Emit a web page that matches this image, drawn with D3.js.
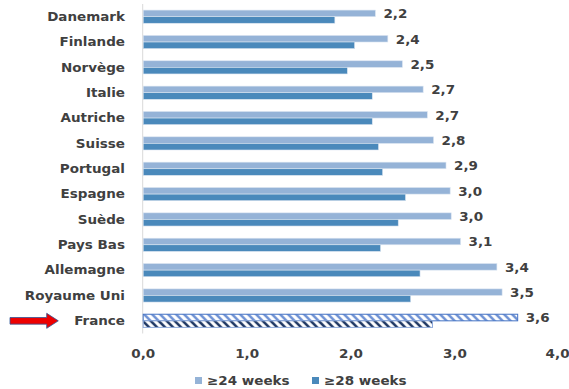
<!DOCTYPE html>
<html><head><meta charset="utf-8">
<script src="https://cdn.jsdelivr.net/npm/d3@7/dist/d3.min.js"></script>
<style>
html,body{margin:0;padding:0;background:#fff;}
svg{display:block;}
text{font-family:"DejaVu Sans",Verdana,sans-serif;font-weight:bold;fill:#404040;}
</style></head>
<body>
<svg id="chart" width="569" height="389"></svg>
<script>
const categories = ["Danemark","Finlande","Norvège","Italie","Autriche","Suisse","Portugal","Espagne","Suède","Pays Bas","Allemagne","Royaume Uni","France"];
const weeks24 = [2.24,2.36,2.50,2.70,2.74,2.80,2.92,2.96,2.97,3.06,3.41,3.46,3.61];
const weeks28 = [1.85,2.04,1.97,2.21,2.21,2.27,2.31,2.53,2.46,2.29,2.67,2.58,2.79];
const seriesNames = ["≥24 weeks","≥28 weeks"];
const xTicks = [0,1,2,3,4];
const highlight = "France";

const colors = {"≥24 weeks":"#95b3d7","≥28 weeks":"#4a89bb"};
const SX = 1.08; // horizontal stretch of text
const FS = "12.5px";
const svg = d3.select("#chart");

const x = d3.scaleLinear().domain([0,4]).range([142.7,558.2]);
const y = d3.scaleBand().domain(categories).range([4,333.5]).paddingInner(0.48).paddingOuter(0.24);
const ys = d3.scaleBand().domain(seriesNames).range([0,y.bandwidth()]);

// patterns
const defs = svg.append("defs");
function hatch(id, color){
  const p = defs.append("pattern").attr("id",id).attr("patternUnits","userSpaceOnUse")
    .attr("width",8).attr("height",8);
  p.append("rect").attr("width",8).attr("height",8).attr("fill","#fff");
  p.append("path").attr("d","M0,0 L8,8 M-4,4 L4,12 M4,-4 L12,4")
    .attr("stroke",color).attr("stroke-width",2.6);
}
hatch("h24","#6f92d4");
hatch("h28","#1f3864");

const rows = categories.map((c,i)=>({cat:c, vals:[{s:seriesNames[0],v:weeks24[i]},{s:seriesNames[1],v:weeks28[i]}]}));

// axis line
svg.append("line").attr("x1",x(0)).attr("x2",x(0)).attr("y1",4).attr("y2",333.5)
  .attr("stroke","#d9d9d9").attr("stroke-width",1);

const g = svg.selectAll("g.row").data(rows).join("g").attr("class","row")
  .attr("transform",d=>`translate(0,${y(d.cat)})`);

g.selectAll("rect").data(d=>d.vals.map(v=>({...v,cat:d.cat}))).join("rect")
  .attr("x",x(0)+0.5)
  .attr("y",d=>ys(d.s))
  .attr("width",d=>x(d.v)-x(0)-0.5)
  .attr("height",ys.bandwidth())
  .attr("fill",d=>d.cat===highlight ? (d.s===seriesNames[0]?"url(#h24)":"url(#h28)") : colors[d.s])
  .attr("stroke",d=>d.cat===highlight ? (d.s===seriesNames[0]?"#4472c4":"#8eaadb") : "#dbe5f1")
  .attr("stroke-width",d=>d.cat===highlight?1:0.6);

// value labels
const fmt = v => d3.format(".1f")(v).replace(".",",");
g.append("text")
  .attr("transform",d=>`translate(${x(d.vals[0].v)+8},${ys(seriesNames[0])+ys.bandwidth()/2+0.5}) scale(${SX},1)`)
  .attr("dominant-baseline","central")
  .style("font-size",FS)
  .text(d=>fmt(d.vals[0].v));

// category labels
g.append("text")
  .attr("transform",d=>`translate(125,${y.bandwidth()/2}) scale(${SX},1)`)
  .attr("text-anchor","end").attr("dominant-baseline","central")
  .style("font-size",FS)
  .text(d=>d.cat);

// x axis labels
const ax = svg.append("g").attr("transform","translate(0,349)")
  .call(d3.axisBottom(x).tickValues(xTicks).tickSize(0).tickPadding(0).tickFormat(fmt));
ax.select(".domain").remove();
ax.selectAll("text").attr("y",0).attr("dy","0.71em").attr("transform",`scale(${SX},1)`)
  .attr("text-anchor",d=>d===4?"end":"middle")
  .attr("x",d=>d===4?10:0)
  .style("font-size",FS).style("font-family","\"DejaVu Sans\",Verdana,sans-serif")
  .attr("fill","#404040");

// legend
const legX = [195,312];
const lg = svg.selectAll("g.leg").data(seriesNames).join("g").attr("class","leg")
  .attr("transform",(d,i)=>`translate(${legX[i]},377)`);
lg.append("rect").attr("width",7).attr("height",7).attr("fill",d=>colors[d]);
lg.append("text").attr("transform",`translate(12,3.8) scale(${SX},1)`)
  .attr("dominant-baseline","central").style("font-size",FS).text(d=>d);

// arrow pointing to France
const cy = y(highlight)+y.bandwidth()/2;
svg.append("path")
  .attr("d",`M10,${cy-3.3} L46.7,${cy-3.3} L46.7,${cy-7.5} L58.3,${cy} L46.7,${cy+7.5} L46.7,${cy+3.3} L10,${cy+3.3} Z`)
  .attr("fill","#ee0000").attr("stroke","#2f5597").attr("stroke-width",0.8);
</script>
</body></html>
